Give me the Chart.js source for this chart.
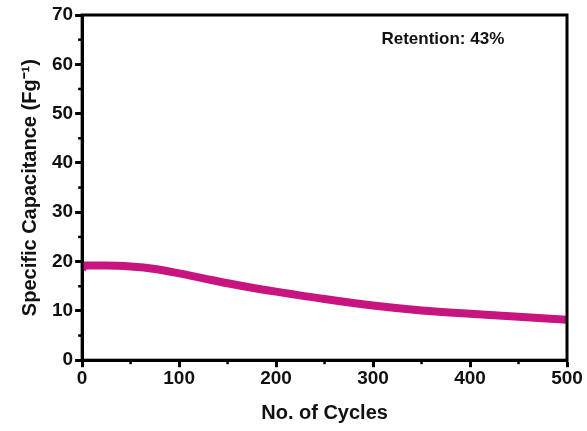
<!DOCTYPE html>
<html>
<head>
<meta charset="utf-8">
<script src="https://cdn.jsdelivr.net/npm/chart.js@4/dist/chart.umd.min.js"></script>
<style>
  html, body { margin: 0; padding: 0; background: #fff; }
  #wrap { width: 587px; height: 431px; }
</style>
</head>
<body>
<div id="wrap"><canvas id="capacity" width="587" height="431"></canvas></div>
<script>
// values
var cycles = [0, 2, 25, 50, 75, 100, 125, 150, 175, 200, 250, 300, 350, 400, 450, 500];
var capacitance = [18.4, 19.2, 19.2, 19.0, 18.5, 17.6, 16.6, 15.6, 14.7, 13.9, 12.4, 11.1, 10.1, 9.4, 8.8, 8.2];
var xTicks = [0, 100, 200, 300, 400, 500];
var yTicks = [0, 10, 20, 30, 40, 50, 60, 70];

var font = "'Liberation Sans', Arial, sans-serif";

// frame, minor ticks and the retention note
var extras = {
	id: 'extras',
	afterDraw: function(chart) {
		var c = chart.ctx, a = chart.chartArea;
		var xs = chart.scales.x, ys = chart.scales.y;
		c.save();
		c.strokeStyle = '#000';
		c.lineWidth = 3;
		c.strokeRect(a.left, a.top, a.right - a.left, a.bottom - a.top);
		c.lineWidth = 2.5;
		for (var v = 50; v < 500; v += 100) {
			var px = xs.getPixelForValue(v);
			c.beginPath(); c.moveTo(px, a.bottom); c.lineTo(px, a.bottom + 4); c.stroke();
		}
		for (var w = 5; w < 70; w += 10) {
			var py = ys.getPixelForValue(w);
			c.beginPath(); c.moveTo(a.left, py); c.lineTo(a.left - 4, py); c.stroke();
		}
		c.fillStyle = '#111';
		c.font = 'bold 17px ' + font;
		c.textAlign = 'center';
		c.textBaseline = 'middle';
		c.fillText('Retention: 43%', xs.getPixelForValue(372), ys.getPixelForValue(65));
		c.restore();
	}
};

var ctx = document.getElementById("capacity");
new Chart(ctx, {
	type: 'line',
	data: {
		datasets: [{
			label: "Specific Capacitance",
			data: cycles.map(function(x, i) { return { x: x, y: capacitance[i] }; }),
			borderColor: "#c8147f",
			borderWidth: 8,
			borderCapStyle: 'butt',
			pointRadius: 0,
			tension: 0.4,
			cubicInterpolationMode: 'monotone',
			fill: false
		}]
	},
	options: {
		responsive: false,
		animation: false,
		devicePixelRatio: 1,
		plugins: {
			legend: { display: false },
			tooltip: { enabled: false }
		},
		layout: {
			padding: { left: 18, right: 20, top: 15, bottom: 6 }
		},
		scales: {
			x: {
				type: 'linear',
				min: 0,
				max: 500,
				afterBuildTicks: function(scale) {
					scale.ticks = xTicks.map(function(v) { return { value: v }; });
				},
				ticks: {
					color: '#111',
					font: { family: font, size: 19, weight: 'bold' },
					padding: 0,
					maxRotation: 0
				},
				grid: {
					drawOnChartArea: false,
					drawTicks: true,
					tickLength: 7,
					tickWidth: 3,
					tickColor: '#000'
				},
				border: { display: true, color: '#000', width: 3 },
				title: {
					display: true,
					text: 'No. of Cycles',
					color: '#111',
					font: { family: font, size: 20, weight: 'bold' },
					padding: { top: 11, bottom: 0 }
				}
			},
			y: {
				min: 0,
				max: 70,
				afterBuildTicks: function(scale) {
					scale.ticks = yTicks.map(function(v) { return { value: v }; });
				},
				ticks: {
					color: '#111',
					font: { family: font, size: 19, weight: 'bold' },
					padding: 2
				},
				grid: {
					drawOnChartArea: false,
					drawTicks: true,
					tickLength: 7,
					tickWidth: 3,
					tickColor: '#000'
				},
				border: { display: true, color: '#000', width: 3 },
				title: {
					display: true,
					text: 'Specific Capacitance (Fg\u207B\u00B9)',
					color: '#111',
					font: { family: font, size: 20, weight: 'bold' },
					padding: { top: 0, bottom: 8 }
				}
			}
		}
	},
	plugins: [extras]
});
</script>
</body>
</html>
